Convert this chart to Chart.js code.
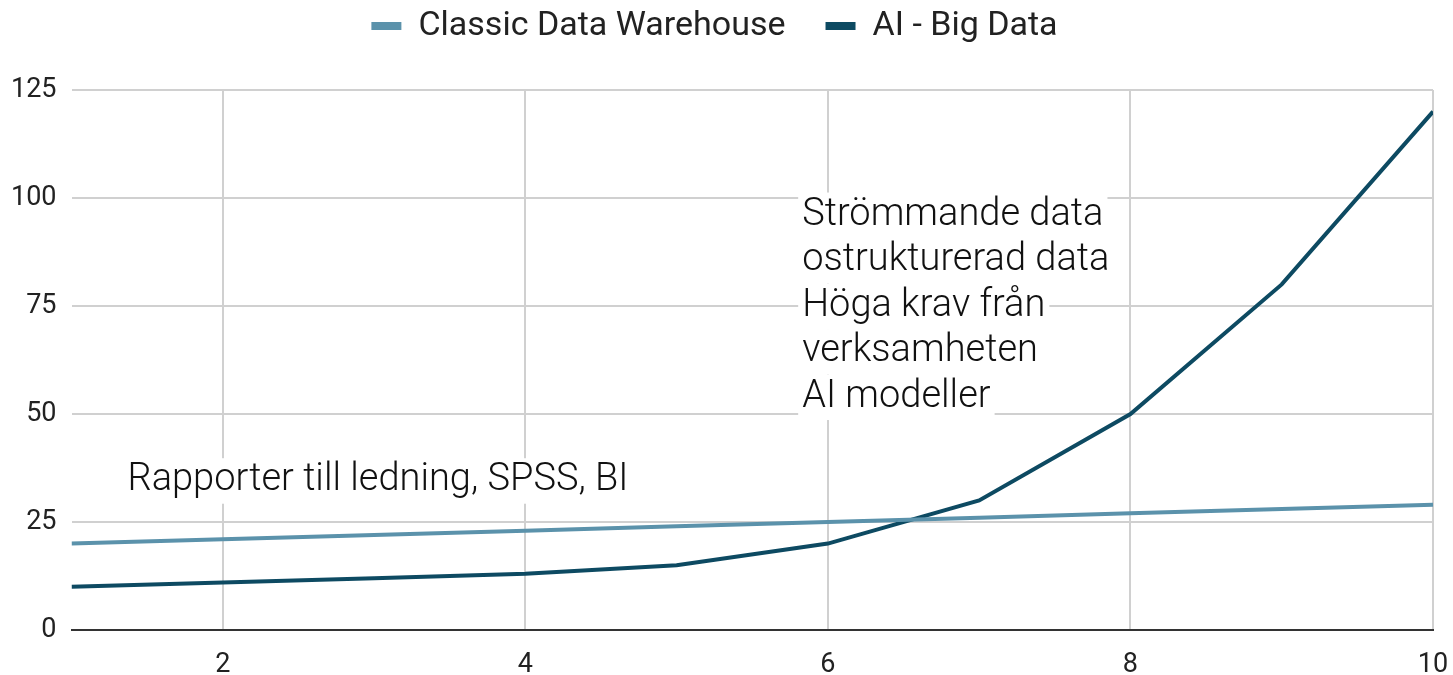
<!DOCTYPE html>
<html>
<head>
<meta charset="utf-8">
<script src="https://cdn.jsdelivr.net/npm/chart.js@4"></script>
<style>
  html,body{margin:0;padding:0;background:#fff}
  #wrap{width:1453px;height:675px}
</style>
</head>
<body>
<div id="wrap"><canvas id="c"></canvas></div>
<script>
const X = [1,2,3,4,5,6,7,8,9,10]
const CLASSIC = [20,21,22,23,24,25,26,27,28,29]
const AI_BIG = [10,11,12,13,15,20,30,50,80,120]
const SERIES = ['Classic Data Warehouse','AI - Big Data']
const COLORS = ['#5b92ab','#0d4a62']

// annotation text blocks, anchored in data units (x = left edge, y = first line centre)
const NOTES = [
  {x:1.37, y:34.5, lines:['Rapporter till ledning, SPSS, BI']},
  {x:5.83, y:96, lines:['Strömmande data','ostrukturerad data','Höga krav från','verksamheten','AI modeller']},
]
const NOTE_FONT = '300 38px Roboto'
const NOTE_LH = 45.5

const notesPlugin = {
  id:'notes',
  beforeDatasetsDraw(chart){
    const {ctx, scales:{x, y}} = chart
    ctx.save()
    ctx.font = NOTE_FONT
    ctx.textBaseline = 'middle'
    NOTES.forEach(n=>{
      const px = x.getPixelForValue(n.x)
      const py = y.getPixelForValue(n.y)
      n.lines.forEach((t,i)=>{
        const w = ctx.measureText(t).width
        const ly = py + i*NOTE_LH
        ctx.fillStyle = '#fff'
        ctx.fillRect(px-4, ly-NOTE_LH/2, w+8, NOTE_LH)
        ctx.fillStyle = '#111'
        ctx.fillText(t, px, ly)
      })
    })
    ctx.restore()
  }
}

// extra room under the legend
const legendGap = {
  id:'legendGap',
  beforeInit(chart){
    const fit = chart.legend.fit
    chart.legend.fit = function(){
      fit.call(this)
      this.height += 37
    }
  }
}

const tc = '#222', gc = '#d0d0d0'

new Chart(document.getElementById('c'), {
  type:'line',
  data:{
    datasets:[
      {label:SERIES[0], data:X.map((v,i)=>({x:v,y:CLASSIC[i]})), borderColor:COLORS[0], backgroundColor:COLORS[0], borderWidth:4, pointRadius:0, tension:0},
      {label:SERIES[1], data:X.map((v,i)=>({x:v,y:AI_BIG[i]})), borderColor:COLORS[1], backgroundColor:COLORS[1], borderWidth:4, pointRadius:0, tension:0},
    ]
  },
  options:{
    responsive:true, maintainAspectRatio:false, animation:false,
    layout:{padding:{left:-4, right:20, top:-31, bottom:-26}},
    plugins:{
      tooltip:{enabled:false},
      legend:{
        position:'top',
        labels:{
          color:tc, font:{family:'Roboto', size:34}, boxWidth:30, boxHeight:8, padding:40,
          generateLabels(chart){
            return Chart.defaults.plugins.legend.labels.generateLabels(chart).map(l=>({...l, lineWidth:0}))
          }
        }
      }
    },
    scales:{
      x:{
        type:'linear', min:1, max:10,
        ticks:{stepSize:2, includeBounds:false, color:tc, font:{family:'Roboto', size:27, lineHeight:1}, padding:22, maxRotation:0},
        grid:{color:gc, lineWidth:2, drawTicks:false},
        border:{color:'#333', width:2},
        afterFit(s){ s.paddingRight = 0 }
      },
      y:{
        min:0, max:125,
        ticks:{stepSize:25, color:tc, font:{family:'Roboto', size:27}, padding:15},
        grid:{color:gc, lineWidth:2, drawTicks:false},
        border:{display:false}
      }
    }
  },
  plugins:[notesPlugin, legendGap]
})
</script>
</body>
</html>
